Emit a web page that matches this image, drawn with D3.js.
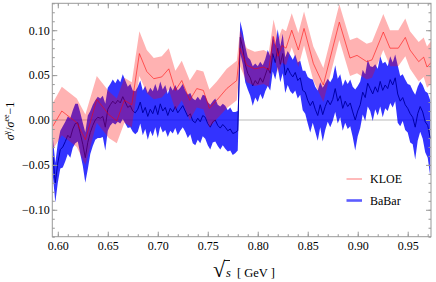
<!DOCTYPE html>
<html>
<head>
  <meta charset="utf-8">
  <title>KLOE vs BaBar</title>
  <style>
    body { margin: 0; background: #fff; }
    svg { display: block; }
    .axis text { font-family: "Liberation Serif", "DejaVu Serif", serif; font-size: 12px; fill: #000; }
    .axis line { stroke: #999; }
    .axis path { display: none; }
  </style>
  <script src="https://d3js.org/d3.v7.min.js"></script>
</head>
<body>
<script>
// BaBar: sqrt(s) [GeV], ratio - 1, error
var babarE = [0.595,0.5975,0.6,0.6025,0.605,0.6075,0.61,0.6125,0.615,0.6175,
  0.62,0.6225,0.625,0.6275,0.63,0.6325,0.635,0.6375,0.64,0.6425,
  0.645,0.6475,0.65,0.6525,0.655,0.6575,0.66,0.6625,0.665,0.6675,
  0.67,0.6725,0.675,0.6775,0.68,0.6825,0.685,0.6875,0.69,0.6925,
  0.695,0.6975,0.7,0.7025,0.705,0.7075,0.71,0.7125,0.715,0.7175,
  0.72,0.7225,0.725,0.7275,0.73,0.7325,0.735,0.7375,0.74,0.7425,
  0.745,0.7475,0.75,0.7525,0.755,0.7575,0.76,0.7625,0.765,0.7675,
  0.77,0.7725,0.775,0.7775,0.78,0.7825,0.785,0.7875,0.79,0.7925,
  0.795,0.7975,0.8,0.8025,0.805,0.8075,0.81,0.8125,0.815,0.8175,
  0.82,0.8225,0.825,0.8275,0.83,0.8325,0.835,0.8375,0.84,0.8425,
  0.845,0.8475,0.85,0.8525,0.855,0.8575,0.86,0.8625,0.865,0.8675,
  0.87,0.8725,0.875,0.8775,0.88,0.8825,0.885,0.8875,0.89,0.8925,
  0.895,0.8975,0.9,0.9025,0.905,0.9075,0.91,0.9125,0.915,0.9175,
  0.92,0.9225,0.925,0.9275,0.93,0.9325,0.935,0.9375,0.94,0.9425,
  0.945,0.9475,0.95,0.9525,0.955,0.9575,0.96,0.9625,0.965,0.9675,
  0.97,0.9725];
var babarVal = [-40,-70,-48,-33,-30,-24,-17,-20,-10,-4,
  -3,-15,-27,-42,-25,-14,-6,0,3,2,
  4,-8,12,17,21,18,22,19,26,20,
  14,16,10,8,12,20,8,14,4,12,
  7,16,6,18,10,14,5,13,9,15,
  8,12,16,10,4,7,-1,-3,2,-2,
  5,3,-4,-8,-2,0,-6,-9,-5,-8,
  -12,-10,-15,-14,-12,92,80,62,52,47,
  38,44,40,47,42,50,58,52,74,64,
  80,62,74,50,58,52,48,53,44,47,
  33,31,22,16,21,12,5,17,6,15,
  22,17,23,35,21,27,13,21,15,19,
  9,0,10,17,31,25,41,35,29,37,
  31,43,33,39,35,45,39,47,29,21,
  25,17,13,7,3,-8,7,15,9,-2,
  -6,-20];
var babarErr = [21,22,22,21,23,22,21,22,21,22,
  21,23,24,28,30,24,23,22,23,22,
  23,26,24,23,24,23,24,23,25,24,
  23,24,23,24,25,24,25,24,26,24,
  25,24,26,25,24,25,24,25,24,24,
  25,24,24,23,24,23,25,25,24,24,
  23,24,24,25,23,24,23,24,23,24,
  23,24,24,23,22,18,18,20,18,20,
  22,19,20,18,19,18,20,19,20,19,
  21,20,22,20,19,20,19,20,20,19,
  22,24,26,30,24,25,28,25,30,26,
  24,25,24,26,25,24,25,24,25,26,
  28,34,28,26,25,26,26,25,30,25,
  26,28,30,26,25,26,25,26,32,28,
  26,28,27,32,30,36,30,28,30,34,
  36,42];

// KLOE
var kloeE = [0.595,0.604,0.619,0.6276,0.639,0.651,0.659,0.6666,0.674,0.6816,
  0.689,0.696,0.704,0.711,0.7176,0.724,0.732,0.739,0.7456,0.7516,
  0.759,0.769,0.779,0.7823,0.789,0.797,0.806,0.811,0.8158,0.8203,
  0.8243,0.8283,0.834,0.8406,0.8463,0.8556,0.8656,0.8816,0.8923,0.8993,
  0.909,0.9143,0.9256,0.9323,0.9406,0.9476,0.9523,0.961,0.966,0.9693,0.9733];
var kloeVal = [-7,10,-3,-22,23,6,-1,22,17,74,
  54,46,48,57,33,44,22,35,33,13,
  22,35,44,80,61,57,59,56,93,71,
  83,80,100,78,102,63,39,109,69,72,
  65,67,98,80,80,92,78,65,70,59,64];
var kloeErr = [26,27,27,28,26,26,25,25,25,25,
  24,23,23,23,22,22,22,21,21,21,
  21,22,22,20,19,19,19,19,19,19,
  19,19,19,19,19,19,19,20,20,20,
  20,20,20,20,20,21,21,22,22,23,24];

var xMajor = [0.60,0.65,0.70,0.75,0.80,0.85,0.90,0.95];
var yMajor = [-0.10,-0.05,0.00,0.05,0.10];
var seriesNames = ["KLOE", "BaBar"];

var W = 436, H = 282;
var margin = {top: 3.3, right: 5, bottom: 45.3, left: 52.3};

var svg = d3.select("body").append("svg").attr("width", W).attr("height", H);

var x = d3.scaleLinear().domain([0.5945, 0.9733]).range([margin.left, W - margin.right]);
var y = d3.scaleLinear().domain([-0.13, 0.13]).range([H - margin.bottom, margin.top]);

function rows(E, V, S) {
  return E.map(function(e, i) { return {e: e, v: V[i] / 1000, s: S[i] / 1000}; });
}
var babar = rows(babarE, babarVal, babarErr);
var kloe = rows(kloeE, kloeVal, kloeErr);

svg.append("clipPath").attr("id", "clip").append("rect")
  .attr("x", x.range()[0]).attr("y", y.range()[1])
  .attr("width", x.range()[1] - x.range()[0])
  .attr("height", y.range()[0] - y.range()[1]);

var plot = svg.append("g").attr("clip-path", "url(#clip)");

// zero line
plot.append("line")
  .attr("x1", x.range()[0]).attr("x2", x.range()[1])
  .attr("y1", y(0)).attr("y2", y(0))
  .attr("stroke", "#bbb").attr("stroke-width", 1);

var band = d3.area()
  .x(function(d) { return x(d.e); })
  .y0(function(d) { return y(d.v - d.s); })
  .y1(function(d) { return y(d.v + d.s); });
var mid = d3.line()
  .x(function(d) { return x(d.e); })
  .y(function(d) { return y(d.v); });

plot.append("path").datum(babar).attr("d", band)
  .attr("fill", "#0000ff").attr("fill-opacity", 0.8);
plot.append("path").datum(babar).attr("d", mid)
  .attr("fill", "none").attr("stroke", "#0000a8").attr("stroke-width", 1);

plot.append("path").datum(kloe).attr("d", band)
  .attr("fill", "#ff0000").attr("fill-opacity", 0.3);
plot.append("path").datum(kloe).attr("d", mid)
  .attr("fill", "none").attr("stroke", "#ff0000").attr("stroke-opacity", 0.55).attr("stroke-width", 1);

// frame
svg.append("rect")
  .attr("x", x.range()[0]).attr("y", y.range()[1])
  .attr("width", x.range()[1] - x.range()[0])
  .attr("height", y.range()[0] - y.range()[1])
  .attr("fill", "none").attr("stroke", "#999").attr("stroke-width", 1);

var fmt = d3.format(".2f");
var minus = function(d) { return fmt(d).replace("-", "\u2212"); };
var xMinor = d3.range(60, 98).map(function(k) { return k / 100; });
var yMinor = d3.range(-13, 14).map(function(k) { return k / 100; });

function addAxis(axis, tr) {
  svg.append("g").attr("class", "axis").attr("transform", tr).call(axis);
}
var b = y.range()[0], t = y.range()[1], l = x.range()[0], r = x.range()[1];

addAxis(d3.axisBottom(x).tickValues(xMinor).tickFormat("").tickSize(-2.5).tickSizeOuter(0), "translate(0," + b + ")");
addAxis(d3.axisBottom(x).tickValues(xMajor).tickFormat(fmt).tickSize(-5).tickSizeOuter(0).tickPadding(5), "translate(0," + b + ")");
addAxis(d3.axisTop(x).tickValues(xMinor).tickFormat("").tickSize(-2.5).tickSizeOuter(0), "translate(0," + t + ")");
addAxis(d3.axisTop(x).tickValues(xMajor).tickFormat("").tickSize(-5).tickSizeOuter(0), "translate(0," + t + ")");
addAxis(d3.axisLeft(y).tickValues(yMinor).tickFormat("").tickSize(-2.5).tickSizeOuter(0), "translate(" + l + ",0)");
addAxis(d3.axisLeft(y).tickValues(yMajor).tickFormat(minus).tickSize(-5).tickSizeOuter(0).tickPadding(2.5), "translate(" + l + ",0)");
addAxis(d3.axisRight(y).tickValues(yMinor).tickFormat("").tickSize(-2.5).tickSizeOuter(0), "translate(" + r + ",0)");
addAxis(d3.axisRight(y).tickValues(yMajor).tickFormat("").tickSize(-5).tickSizeOuter(0), "translate(" + r + ",0)");

var serif = "'Liberation Serif', 'DejaVu Serif', serif";

// x label
var xl = svg.append("text").attr("y", 276.5).attr("font-family", serif).attr("font-size", 12.5);
xl.append("tspan").attr("x", 213).attr("font-size", 22).text("\u221A");
xl.append("tspan").attr("font-style", "italic").attr("dx", 1).text("s");
xl.append("tspan").attr("dx", 6).text("[ GeV ]");
svg.append("line").attr("x1", 224).attr("x2", 230).attr("y1", 260.5).attr("y2", 260.5)
  .attr("stroke", "#000").attr("stroke-width", 0.9);

// y label
var yl = svg.append("text").attr("transform", "translate(14,121) rotate(-90)")
  .attr("text-anchor", "middle").attr("font-family", serif).attr("font-size", 12);
yl.append("tspan").attr("font-style", "italic").text("\u03C3");
yl.append("tspan").attr("font-size", 8).attr("dy", -5).text("\u03B3");
yl.append("tspan").attr("dy", 5).text("/");
yl.append("tspan").attr("font-style", "italic").text("\u03C3");
yl.append("tspan").attr("font-size", 8).attr("dy", -5).text("ee");
yl.append("tspan").attr("dy", 5).text("\u22121");

// legend
var leg = svg.append("g");
var legStyle = [
  {stroke: "#ff0000", op: 0.45, w: 1.2, y: 179},
  {stroke: "#3333ff", op: 0.8, w: 2.6, y: 200.5}
];
seriesNames.forEach(function(n, i) {
  leg.append("line").attr("x1", 346.5).attr("x2", 362).attr("y1", legStyle[i].y).attr("y2", legStyle[i].y)
    .attr("stroke", legStyle[i].stroke).attr("stroke-opacity", legStyle[i].op).attr("stroke-width", legStyle[i].w);
  leg.append("text").attr("x", 370).attr("y", legStyle[i].y + 4)
    .attr("font-family", serif).attr("font-size", 12).text(n);
});
</script>
</body>
</html>
